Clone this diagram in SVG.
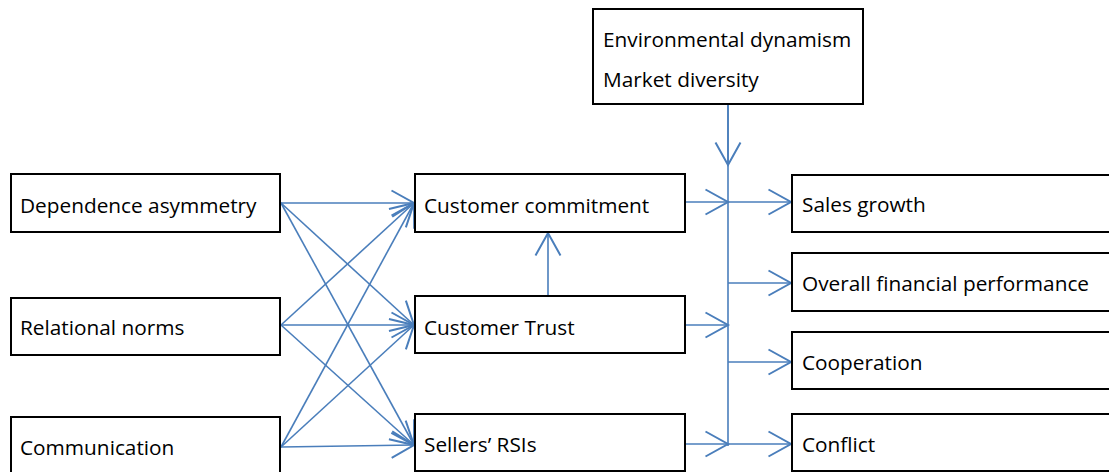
<svg xmlns="http://www.w3.org/2000/svg" width="1109" height="472" viewBox="0 0 1109 472">
<style>
.box{fill:#fff;stroke:#000;stroke-width:2}
.t{font-family:"Open Sans","Liberation Sans",sans-serif;font-size:20.8px;fill:#000}
.c{fill:none;stroke:#4a7ebb;stroke-width:1.6}
</style>
<defs>
<marker id="ah" markerUnits="userSpaceOnUse" markerWidth="30" markerHeight="30" viewBox="-20 -12 22 24" refX="0" refY="0" orient="auto" overflow="visible">
<path d="M-18,-10 L0,0 L-18,10" fill="none" stroke="#4a7ebb" stroke-width="1.6"/>
</marker>
</defs>
<rect width="1109" height="472" fill="#fff"/>
<g id="connectors">
<line class="c" x1="281" y1="203" x2="414" y2="203" marker-end="url(#ah)"/>
<line class="c" x1="281" y1="203" x2="414" y2="325" marker-end="url(#ah)"/>
<line class="c" x1="281" y1="203" x2="414" y2="445" marker-end="url(#ah)"/>
<line class="c" x1="281" y1="325" x2="414" y2="203" marker-end="url(#ah)"/>
<line class="c" x1="281" y1="325" x2="414" y2="325" marker-end="url(#ah)"/>
<line class="c" x1="281" y1="325" x2="414" y2="445" marker-end="url(#ah)"/>
<line class="c" x1="281" y1="447" x2="414" y2="203" marker-end="url(#ah)"/>
<line class="c" x1="281" y1="447" x2="414" y2="325" marker-end="url(#ah)"/>
<line class="c" x1="281" y1="447" x2="414" y2="445" marker-end="url(#ah)"/>
<line class="c" x1="548" y1="296" x2="548" y2="233" marker-end="url(#ah)"/>
<line class="c" x1="728" y1="104" x2="728" y2="446"/>
<line class="c" x1="728" y1="104" x2="728" y2="165" marker-end="url(#ah)"/>
<line class="c" x1="685" y1="202" x2="728" y2="202" marker-end="url(#ah)"/>
<line class="c" x1="685" y1="325" x2="728" y2="325" marker-end="url(#ah)"/>
<line class="c" x1="685" y1="444" x2="728" y2="444" marker-end="url(#ah)"/>
<line class="c" x1="728" y1="202" x2="791" y2="202" marker-end="url(#ah)"/>
<line class="c" x1="728" y1="283" x2="791" y2="283" marker-end="url(#ah)"/>
<line class="c" x1="728" y1="362" x2="791" y2="362" marker-end="url(#ah)"/>
<line class="c" x1="728" y1="444" x2="791" y2="444" marker-end="url(#ah)"/>
</g>
<g id="n-env"><rect class="box" x="593" y="9" width="270" height="95"/><text class="t" x="603" y="47">Environmental dynamism</text><text class="t" x="603" y="87">Market diversity</text></g>
<g id="n-dep"><rect class="box" x="11" y="174" width="269" height="58"/><text class="t" x="20" y="213">Dependence asymmetry</text></g>
<g id="n-rel"><rect class="box" x="11" y="298" width="269" height="57"/><text class="t" x="20" y="335">Relational norms</text></g>
<g id="n-com"><rect class="box" x="11" y="417" width="269" height="60"/><text class="t" x="20" y="455">Communication</text></g>
<g id="n-cc"><rect class="box" x="415" y="174" width="270" height="58"/><text class="t" x="424" y="213">Customer commitment</text></g>
<g id="n-ct"><rect class="box" x="415" y="296" width="270" height="57"/><text class="t" x="424" y="335">Customer Trust</text></g>
<g id="n-rsi"><rect class="box" x="415" y="414" width="270" height="57"/><text class="t" x="424" y="452">Sellers’ RSIs</text></g>
<g id="n-sg"><rect class="box" x="792" y="175" width="330" height="57"/><text class="t" x="802" y="212">Sales growth</text></g>
<g id="n-ofp"><rect class="box" x="792" y="253" width="330" height="58"/><text class="t" x="802" y="291">Overall financial performance</text></g>
<g id="n-coop"><rect class="box" x="792" y="332" width="330" height="57"/><text class="t" x="802" y="370">Cooperation</text></g>
<g id="n-conf"><rect class="box" x="792" y="414" width="330" height="57"/><text class="t" x="802" y="452">Conflict</text></g>
</svg>
